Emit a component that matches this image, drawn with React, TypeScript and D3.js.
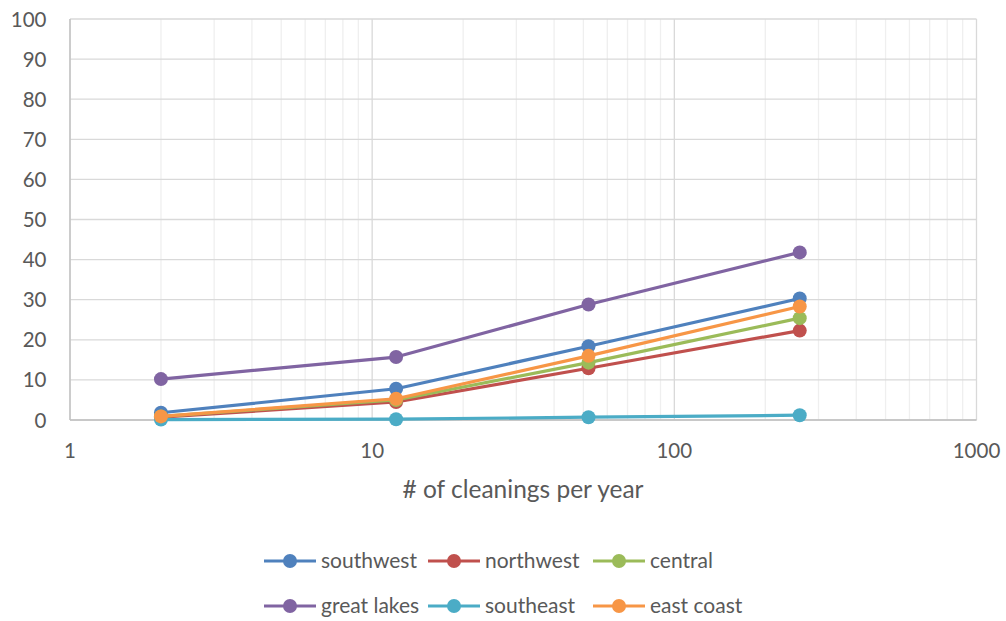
import React from "react";
import * as d3 from "d3";

const xValues = [2, 12, 52, 260];
const seriesNames = ["southwest", "northwest", "central", "great lakes", "southeast", "east coast"];
const seriesColors = ["#4F81BD", "#C0504D", "#9BBB59", "#8064A2", "#4BACC6", "#F79646"];
const southwest = [1.8, 7.8, 18.4, 30.3];
const northwest = [0.7, 4.5, 12.9, 22.3];
const central = [0.9, 5.0, 14.3, 25.4];
const greatLakes = [10.2, 15.7, 28.8, 41.8];
const southeast = [0.1, 0.2, 0.7, 1.2];
const eastCoast = [0.9, 5.3, 16.0, 28.3];
const seriesValues = [southwest, northwest, central, greatLakes, southeast, eastCoast];
const yTicks = [0, 10, 20, 30, 40, 50, 60, 70, 80, 90, 100];
const xTicks = [1, 10, 100, 1000];
const xTitle = "# of cleanings per year";

const W = 1006, H = 621;
const left = 70, right = 976.5, top = 19, bottom = 420;
const FONT = "Lato, 'Open Sans', sans-serif";

export default function App() {
  const x = d3.scaleLog().domain([1, 1000]).range([left, right]);
  const y = d3.scaleLinear().domain([0, 100]).range([bottom, top]);
  const minor: number[] = [];
  [1, 10, 100].forEach((d) => {
    for (let k = 2; k <= 9; k++) minor.push(d * k);
  });
  const line = d3.line<number>().x((_, i) => x(xValues[i])).y((v) => y(v));

  const legendRows = [
    [0, 1, 2],
    [3, 4, 5],
  ];
  const legendX = [264, 428, 593];
  const legendY = [561, 606];

  return (
    <svg width={W} height={H} style={{ position: "absolute", left: 0, top: 0, background: "#fff" }}>
      <rect x={0} y={0} width={W} height={H} fill="#fff" />
      {minor.map((m) => (
        <line key={"mn" + m} x1={x(m)} x2={x(m)} y1={top} y2={bottom} stroke="#efefef" strokeWidth={1.3} />
      ))}
      {yTicks.map((t) => (
        <line key={"yg" + t} x1={left} x2={right} y1={y(t)} y2={y(t)} stroke="#d9d9d9" strokeWidth={1.3} />
      ))}
      {xTicks.map((t) => (
        <line key={"xg" + t} x1={x(t)} x2={x(t)} y1={top} y2={bottom} stroke="#d9d9d9" strokeWidth={1.3} />
      ))}
      <line x1={left} x2={left} y1={top} y2={bottom} stroke="#bfbfbf" strokeWidth={1.3} />
      <line x1={left} x2={right} y1={bottom} y2={bottom} stroke="#bfbfbf" strokeWidth={1.3} />
      {yTicks.map((t) => (
        <text key={"yl" + t} x={46.5} y={y(t) + 7.5} textAnchor="end" fontFamily={FONT} fontSize={20.5} fill="#595959">
          {t}
        </text>
      ))}
      {xTicks.map((t) => (
        <text key={"xl" + t} x={x(t)} y={458} textAnchor="middle" fontFamily={FONT} fontSize={20.5} fill="#595959">
          {t}
        </text>
      ))}
      <text x={523} y={498} textAnchor="middle" fontFamily={FONT} fontSize={24.5} fill="#595959">
        {xTitle}
      </text>
      {seriesValues.map((vals, si) => (
        <g key={"s" + si}>
          <path d={line(vals) || ""} fill="none" stroke={seriesColors[si]} strokeWidth={3.2} strokeLinejoin="round" />
          {vals.map((v, i) => (
            <circle key={i} cx={x(xValues[i])} cy={y(v)} r={7} fill={seriesColors[si]} />
          ))}
        </g>
      ))}
      {legendRows.map((row, ri) =>
        row.map((si, ci) => (
          <g key={"lg" + si} transform={`translate(${legendX[ci]},${legendY[ri]})`}>
            <line x1={0} x2={52} y1={0} y2={0} stroke={seriesColors[si]} strokeWidth={3.2} />
            <circle cx={26} cy={0} r={7} fill={seriesColors[si]} />
            <text x={57} y={7} fontFamily={FONT} fontSize={21} fill="#595959">
              {seriesNames[si]}
            </text>
          </g>
        ))
      )}
    </svg>
  );
}
